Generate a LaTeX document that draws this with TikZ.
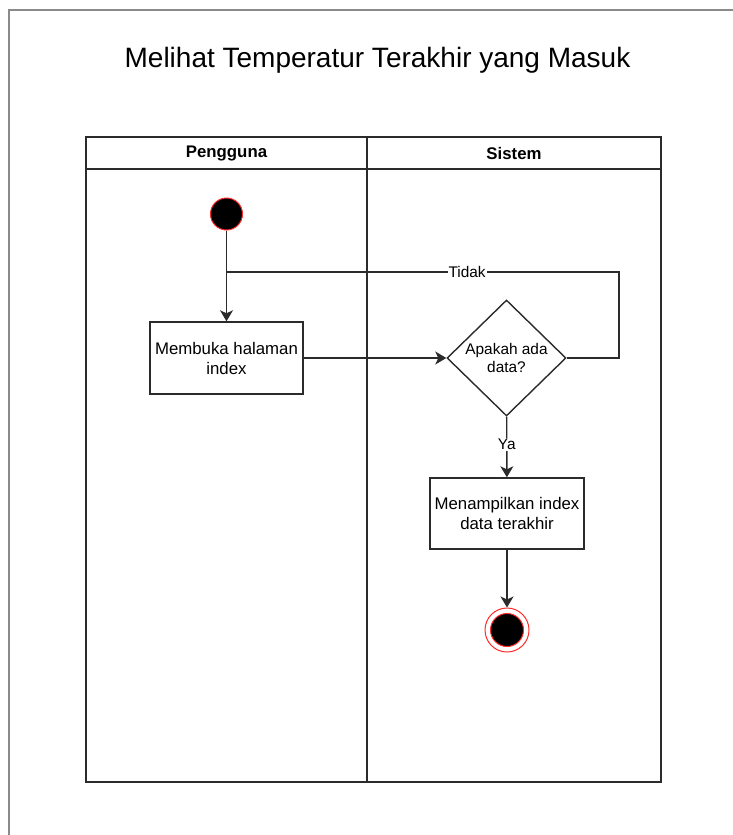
\documentclass[tikz,border=0pt]{standalone}
\usepackage{fontspec}
\setmainfont{Liberation Sans}
\usetikzlibrary{shapes.geometric,arrows.meta}
\definecolor{ink}{HTML}{2B2B2B}
\definecolor{framegray}{HTML}{8A8A8A}
\definecolor{dotred}{HTML}{FF2A2A}
\tikzset{
  boxfont/.style={font=\fontsize{16.8}{20}\selectfont},
  smallfont/.style={font=\fontsize{15.4}{18}\selectfont},
  lanehead/.style={font=\bfseries\fontsize{16.8}{20}\selectfont, inner sep=0pt},
  act/.style={draw=ink, line width=1.4pt, fill=white, boxfont, align=center,
    minimum width=153pt, minimum height=72pt, inner sep=2pt},
  decision/.style={diamond, draw=ink, line width=1.4pt, fill=white, smallfont,
    align=center, minimum width=119pt, minimum height=116pt, inner sep=0pt},
  startdot/.style={circle, fill=black, draw=dotred, line width=1pt,
    minimum size=32pt, inner sep=0pt},
  endring/.style={circle, fill=white, draw=dotred, line width=1pt,
    minimum size=44pt, inner sep=0pt},
  endcore/.style={circle, fill=black, draw=dotred, line width=1pt,
    minimum size=33pt, inner sep=0pt},
  link/.style={draw=ink, line width=1.4pt},
  flow/.style={link, -{Stealth[length=11pt, width=13pt, inset=3pt]}},
  lbl/.style={smallfont, fill=white, inner sep=1pt},
}
\begin{document}
\begin{tikzpicture}[x=1pt, y=-1pt]
  % page and outer frame
  \useasboundingbox (0,0) rectangle (732,835);
  \fill[white] (0,0) rectangle (732,835);
  \draw[framegray, line width=2pt] (9,836) -- (9,10) -- (733,10);

  % title
  \node[font=\fontsize{28}{32}\selectfont] (title) at (377.5,60)
    {Melihat Temperatur Terakhir yang Masuk};

  % swimlanes
  \draw[ink, line width=1.4pt] (86,137) rectangle (661,782);
  \draw[ink, line width=1.4pt] (86,169) -- (661,169);
  \draw[ink, line width=1.8pt] (367,137) -- (367,782);
  \node[lanehead] (laneuser) at (226.5,153) {Pengguna};
  \node[lanehead] (lanesys) at (514,153) {Sistem};

  % activity nodes
  \node[startdot] (start) at (226.5,214) {};
  \node[act] (open) at (226.5,358) {Membuka halaman\\index};
  \node[decision] (check) at (506.5,358) {Apakah ada\\data?};
  \node[act, minimum width=154pt, minimum height=71pt] (show) at (507,513.5)
    {Menampilkan index\\data terakhir};
  \node[endring] (stop) at (507,630) {};
  \node[endcore] (stopcore) at (stop.center) {};

  % loop-back route coordinates
  \coordinate (loopR) at (619,272);
  \coordinate (join) at (226.5,272);

  % connectors
  \draw[flow] (start) -- (open);
  \draw[flow] (open) -- (check);
  \draw[link] (check.east) -| (loopR) -- node[lbl, pos=0.387] {Tidak} (join);
  \draw[flow] (check) -- node[lbl, pos=0.46] {Ya} (show);
  \draw[flow] (show) -- (stop);
\end{tikzpicture}
\end{document}
